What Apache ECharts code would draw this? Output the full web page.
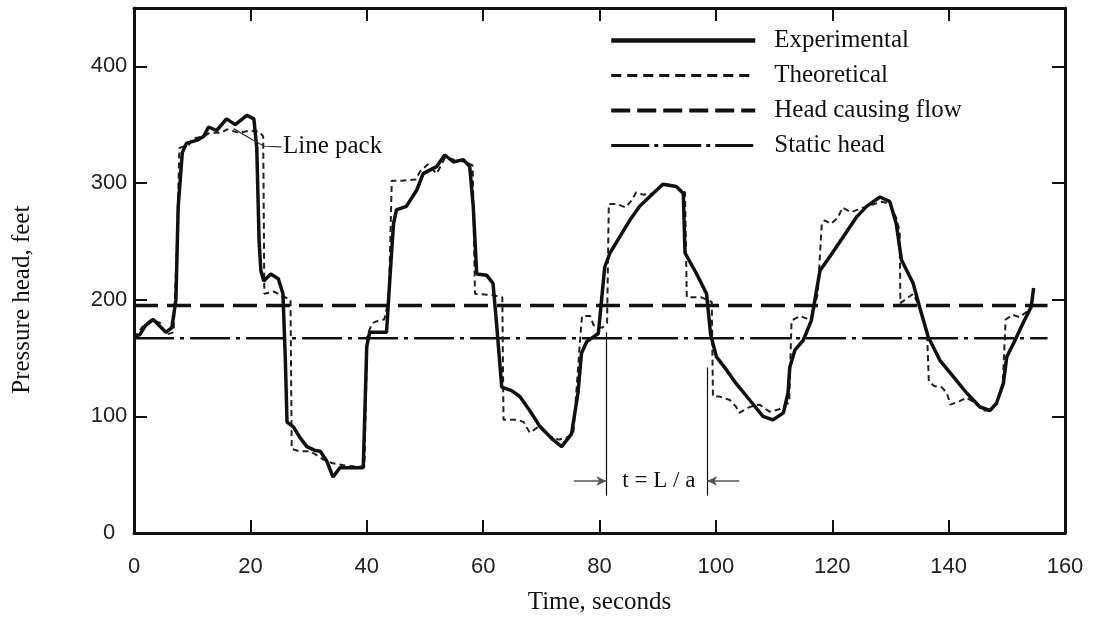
<!DOCTYPE html>
<html><head><meta charset="utf-8">
<script src="https://cdn.jsdelivr.net/npm/echarts@6/dist/echarts.min.js"></script>
<style>html,body{margin:0;padding:0;background:#fff}#c{width:1103px;height:622px}</style>
</head><body><div id="c"></div>
<script>
// ---- data (time in seconds, pressure head in feet) ----
const experimental = [[0,168],[1,170],[2,178],[3.3,183],[4.5,177],[5.5,172],[6.5,176],[7.2,200],[7.6,280],[8.3,326],[9,334],[11,337],[12,340],[12.8,348],[14.2,345],[15.9,355],[17.4,350],[19.4,358],[20.6,355],[21.1,330],[21.5,250],[21.8,225],[22.3,216],[23.5,222],[24.8,218],[25.6,205],[26,150],[26.3,95],[27.4,91],[28.5,82],[29.7,74],[31,71],[32,70],[33.1,62],[34.2,48],[35.4,56],[39.4,56],[40,160],[40.5,172],[42,172],[43.4,172],[44,220],[44.6,265],[45.1,277],[46.8,280],[48.6,294],[49.7,308],[52,314],[53.4,324],[54.9,318],[56.6,320],[57.7,314],[58.3,280],[58.9,222],[60.6,221],[61.7,214],[62.3,180],[63.2,125],[64.9,122],[66.3,117],[68,105],[69.8,91],[72,80],[73.5,74],[75.2,85],[76.3,120],[76.9,154],[77.8,164],[79.8,171],[80.9,228],[81.8,240],[83.5,254],[85.2,268],[86.9,280],[89.2,291],[90.9,299],[93.2,297],[94.4,291],[94.7,240],[96.7,222],[98.4,205],[99.1,170],[100.1,151],[101.8,140],[103.5,128],[105.8,114],[108.1,100],[109.8,97],[111.6,103],[112.4,120],[112.7,142],[113.6,157],[115,165],[116.4,182],[117.3,208],[117.9,225],[119.6,237],[121.9,254],[124.2,271],[125.9,280],[128.2,288],[129.9,284],[131,265],[131.9,234],[133.9,214],[135,194],[136.5,168],[138.5,148],[140.8,134],[143.1,120],[145.4,108],[147.1,105],[148.2,111],[149.4,128],[150,151],[151.1,162],[152.8,180],[154.2,194],[154.6,210]];

const theoretical = [[0,167],[1.5,177],[3,183],[4.5,180],[5.5,170],[6.8,172],[7.4,250],[7.8,330],[9.5,333],[10,338],[12,340],[13,343],[15,343],[16,346],[18,343],[20,345],[21.5,344],[22.2,340],[22.4,205],[24,207],[25.5,203],[26.9,200],[27.1,72],[28.5,70],[30,70],[31,68],[32.5,63],[34,60],[36,58],[38,57],[39.6,57],[40.1,170],[41,180],[42,182],[43,183],[43.8,200],[44.3,302],[46,302],[48.4,303],[49.2,310],[50.5,316],[52,308],[53.5,322],[55,320],[57,318],[58.2,315],[58.6,205],[61.5,204],[63.3,202],[63.5,97],[66,97],[67,95],[68,86],[69.8,92],[71.5,83],[73,80],[74.5,82],[75.5,85],[76.7,168],[77,186],[78.4,186],[79,178],[80.5,176],[81.3,180],[81.6,282],[83,282],[84.5,279],[85.5,285],[86.3,292],[87.5,290],[89.2,291],[91,300],[93,297],[94.7,292],[95,202],[97.5,202],[99.3,198],[99.5,117],[100.6,117],[102.4,114],[103.5,108],[104,103],[105.8,108],[107.5,110],[109.2,104],[110.9,106],[112.6,112],[113,182],[114.5,186],[115.5,184],[116.4,183],[117.5,205],[118.2,265],[118.7,268],[119.8,265],[120.9,270],[121.8,279],[123.2,275],[124.3,277],[126,280],[128.5,284],[129.9,282],[131,270],[131.6,258],[131.7,197],[133.9,205],[135,194],[136.3,170],[136.6,130],[137.5,126],[138.8,125],[139.7,120],[140.3,110],[141.9,113],[143.1,116],[144.3,112],[146,105],[147.1,105],[148.2,111],[149.3,128],[149.8,183],[151,187],[152.2,185],[153.5,190],[154.5,196]];

const headCausingFlow = [[0,195],[157,195]];
const staticHead = [[0,167],[157,167]];

const linePackLeader = [[17.1,346.6],[20.5,336.6],[22.4,331.5],[25.3,331]];
const linePackLabelAt = [25.6,331];
const waveTimes = [81.2, 98.5];      // t = L/a markers
const waveTops = [172, 142];
const waveBottom = 32;
const arrowHead = 44.6;
const arrowOuter = [75.6, 104];
const waveLabelAt = [90.2, 44.6];

const seriesNames = ['Experimental', 'Theoretical', 'Head causing flow', 'Static head'];

const xMin = 0, xMax = 160, xStep = 20;
const yMin = 0, yMax = 450, yStep = 100;

const serif = '"Liberation Serif","DejaVu Serif",serif';
const sans = '"Liberation Sans","DejaVu Sans",sans-serif';
const ink = '#111';

const chart = echarts.init(document.getElementById('c'), null, {renderer: 'canvas'});

const frameLine = {show: true, onZero: false, lineStyle: {color: ink, width: 3}};
const tick = {show: true, inside: true, length: 13, lineStyle: {color: ink, width: 2}};

const legendStyles = [
  {color: ink, width: 4.5, type: 'solid'},
  {color: ink, width: 3, type: [10, 6]},
  {color: ink, width: 4, type: [19, 7]},
  {color: ink, width: 3, type: [38, 5, 4, 5]}
];

chart.setOption({
  animation: false,
  backgroundColor: '#fff',
  color: [ink, ink, ink, ink, ink],
  grid: {left: 134, right: 38, top: 8, bottom: 89, containLabel: false},
  legend: {
    orient: 'vertical', left: 609, top: 28, padding: 0,
    itemWidth: 144, itemHeight: 14, itemGap: 10,
    itemStyle: {opacity: 0, color: 'rgba(0,0,0,0)', borderWidth: 0},
    data: seriesNames.map((n, i) => ({name: n, lineStyle: legendStyles[i]})),
    textStyle: {fontFamily: serif, fontSize: 25, color: ink, lineHeight: 25, padding: [0, 0, 0, 14]}
  },
  xAxis: [
    {type: 'value', min: xMin, max: xMax, interval: xStep, position: 'bottom',
     axisLine: frameLine, axisTick: tick, splitLine: {show: false},
     axisLabel: {fontFamily: sans, fontSize: 22, color: '#222', margin: 23},
     name: 'Time, seconds', nameLocation: 'middle', nameGap: 57,
     nameTextStyle: {fontFamily: serif, fontSize: 25, color: ink}},
    {type: 'value', min: xMin, max: xMax, interval: xStep, position: 'top',
     axisLine: frameLine, axisTick: tick, splitLine: {show: false}, axisLabel: {show: false}}
  ],
  yAxis: [
    {type: 'value', min: yMin, max: yMax, interval: yStep, position: 'left',
     axisLine: frameLine, axisTick: tick, splitLine: {show: false},
     axisLabel: {fontFamily: sans, fontSize: 22, color: '#222', margin: 25, align: 'center', showMaxLabel: false}},
    {type: 'value', min: yMin, max: yMax, interval: yStep, position: 'right',
     axisLine: frameLine, axisTick: tick, splitLine: {show: false}, axisLabel: {show: false}}
  ],
  series: [
    {name: seriesNames[0], type: 'line', data: experimental, symbol: 'none', z: 6,
     itemStyle: {color: ink}, lineStyle: {color: ink, width: 3.5, type: 'solid'}},
    {name: seriesNames[1], type: 'line', data: theoretical, symbol: 'none', z: 5,
     itemStyle: {color: ink}, lineStyle: {color: '#222', width: 2, type: [6, 4]}},
    {name: seriesNames[2], type: 'line', data: headCausingFlow, symbol: 'none', z: 4,
     itemStyle: {color: ink}, lineStyle: {color: ink, width: 3.5, type: [24, 9]}},
    {name: seriesNames[3], type: 'line', data: staticHead, symbol: 'none', z: 4,
     itemStyle: {color: ink}, lineStyle: {color: ink, width: 2.5, type: [40, 6, 4, 6]}},
    {name: 'annotations', type: 'line', data: linePackLeader, symbol: 'none', z: 7, silent: true,
     lineStyle: {color: '#333', width: 1.2},
     markPoint: {
       symbol: 'circle', symbolSize: 0, silent: true,
       data: [
         {coord: linePackLabelAt, label: {show: true, formatter: 'Line pack', position: 'right', distance: 0,
           fontFamily: serif, fontSize: 25, color: ink}},
         {coord: waveLabelAt, label: {show: true, formatter: 't = L / a', position: 'inside',
           fontFamily: serif, fontSize: 23, color: ink}}
       ]
     },
     markLine: {
       silent: true, animation: false,
       label: {show: false},
       lineStyle: {color: ink, width: 1.2, type: 'solid'},
       data: [
         [{coord: [waveTimes[0], waveTops[0]], symbol: 'none'}, {coord: [waveTimes[0], waveBottom], symbol: 'none'}],
         [{coord: [waveTimes[1], waveTops[1]], symbol: 'none'}, {coord: [waveTimes[1], waveBottom], symbol: 'none'}],
         [{coord: [arrowOuter[0], arrowHead], symbol: 'none', lineStyle: {color: '#555', width: 1.5}},
          {coord: [waveTimes[0], arrowHead], symbol: 'arrow', symbolSize: [7, 10]}],
         [{coord: [arrowOuter[1], arrowHead], symbol: 'none', lineStyle: {color: '#555', width: 1.5}},
          {coord: [waveTimes[1], arrowHead], symbol: 'arrow', symbolSize: [7, 10]}]
       ]
     }}
  ]
});

// y-axis title centred at a data position through the axis scale
const ctr = chart.convertToPixel({gridIndex: 0}, [0, 200]);
chart.setOption({graphic: [{type: 'text', x: 22, y: ctr[1], rotation: Math.PI / 2,
  style: {text: 'Pressure head, feet', font: '25px ' + serif, fill: ink, align: 'center', verticalAlign: 'middle'}}]});
</script></body></html>
